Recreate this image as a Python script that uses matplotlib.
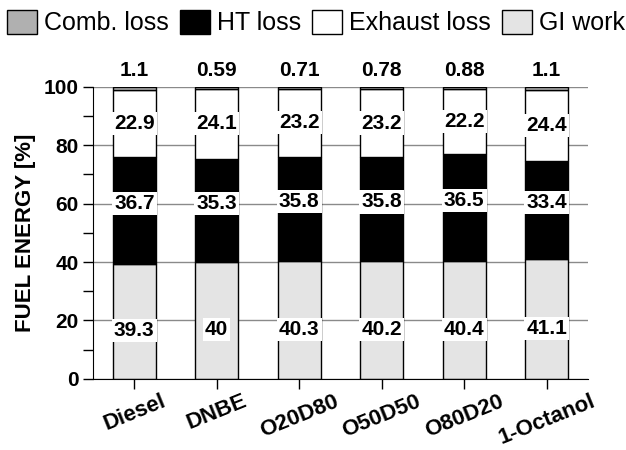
import matplotlib.pyplot as plt
import numpy as np

plt.rcParams['font.family'] = ['Liberation Sans', 'DejaVu Sans']

fuels = ['Diesel', 'DNBE', 'O20D80', 'O50D50', 'O80D20', '1-Octanol']
gi_work = [39.3, 40, 40.3, 40.2, 40.4, 41.1]
ht_loss = [36.7, 35.3, 35.8, 35.8, 36.5, 33.4]
exhaust_loss = [22.9, 24.1, 23.2, 23.2, 22.2, 24.4]
comb_loss = [1.1, 0.59, 0.71, 0.78, 0.88, 1.1]

fig = plt.figure(figsize=(6.26, 4.5), dpi=100)
ax = fig.add_axes([0.1486, 0.158, 0.7904, 0.649])

x = np.arange(len(fuels))
w = 0.52
gi = np.array(gi_work)
ht = np.array(ht_loss)
ex = np.array(exhaust_loss)
cb = np.array(comb_loss)

# stacked segments, bottom to top
kw = dict(width=w, edgecolor='black', linewidth=1.0, zorder=2)
b_gi = ax.bar(x, gi, color='#e4e4e4', label='GI work', **kw)
b_ht = ax.bar(x, ht, bottom=gi, color='black', label='HT loss', **kw)
b_ex = ax.bar(x, ex, bottom=gi + ht, color='white', label='Exhaust loss', **kw)
b_cb = ax.bar(x, cb, bottom=gi + ht + ex, color='#b0b0b0', label='Comb. loss', **kw)

box = dict(facecolor='white', edgecolor='none', pad=1.5)
tkw = dict(ha='center', va='center', fontsize=15, fontweight='bold', zorder=4, bbox=box)
for i in range(len(fuels)):
    ax.text(x[i], gi[i] * 0.42, f"{gi_work[i]:g}", **tkw)
    ax.text(x[i], gi[i] + ht[i] / 2 + 2.5, f"{ht_loss[i]:g}", **tkw)
    ax.text(x[i], gi[i] + ht[i] + ex[i] / 2, f"{exhaust_loss[i]:g}", **tkw)
    ax.annotate(f"{comb_loss[i]:g}", (x[i], 100), xytext=(0, 5),
                textcoords='offset points', ha='center', va='bottom',
                fontsize=15, fontweight='bold', annotation_clip=False)

# axes
ax.set_xlim(-0.5, 5.5)
ax.set_ylim(0, 100)
ax.set_yticks(np.arange(0, 101, 20))
ax.set_yticks(np.arange(10, 100, 20), minor=True)
ax.set_xticks(x)
ax.set_xticklabels(fuels, rotation=22, fontsize=16, fontweight='bold',
                   ha='center', va='top')
for lbl in ax.get_yticklabels():
    lbl.set_fontsize(15)
    lbl.set_fontweight('bold')
ax.tick_params(axis='y', which='both', length=7, width=1, direction='out')
ax.tick_params(axis='x', length=7, width=1, direction='out', pad=1.5)
ax.set_ylabel('FUEL ENERGY [%]', fontsize=16, fontweight='bold', labelpad=5)
ax.yaxis.grid(True, color='#8a8a8a', linewidth=1.0, zorder=0)
ax.set_axisbelow(True)
for s in ['top', 'right']:
    ax.spines[s].set_visible(False)

handles = [b_cb, b_ht, b_ex, b_gi]
fig.legend(handles, [h.get_label() for h in handles], loc='upper center',
           bbox_to_anchor=(0.505, 1.0), ncol=4, frameon=False, fontsize=18,
           handlelength=1.2, handleheight=1.08, handletextpad=0.28,
           columnspacing=0.44, borderaxespad=0.1, borderpad=0.3)

fig.savefig('out.png', dpi=100)
